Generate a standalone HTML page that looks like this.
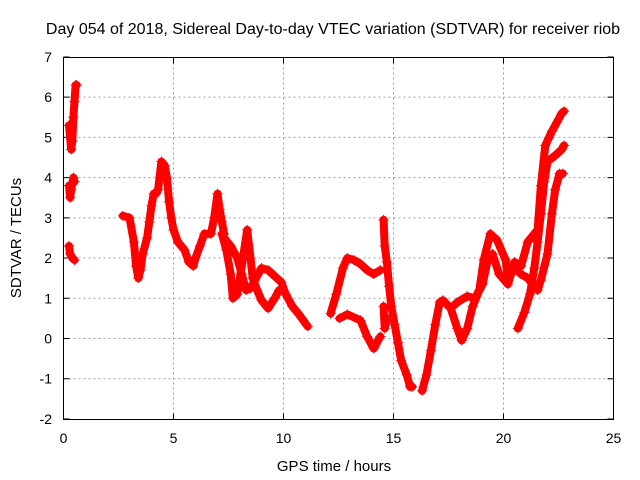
<!DOCTYPE html>
<html><head><meta charset="utf-8"><style>
body{margin:0;background:#fff}
svg{display:block;font-family:"Liberation Sans",sans-serif}
</style></head><body>
<svg id="chart" width="640" height="480" viewBox="0 0 640 480">
<rect width="640" height="480" fill="#fff"/>
<text x="333" y="34" font-size="16" text-anchor="middle">Day 054 of 2018, Sidereal Day-to-day VTEC variation (SDTVAR) for receiver riob</text>
<text x="334" y="471" font-size="15" text-anchor="middle">GPS time / hours</text>
<text x="21" y="238" font-size="15" text-anchor="middle" transform="rotate(-90 21 238)">SDTVAR / TECUs</text>
<g id="grid"></g>
<g id="marks"></g>
<rect x="63.5" y="57.5" width="550" height="362" fill="none" stroke="#000" stroke-width="1"/>
</svg>
<script>
const xTicks=[0,5,10,15,20,25];
const yTicks=[-2,-1,0,1,2,3,4,5,6,7];
const segA1=[[0.25,5.3],[0.3,5.0],[0.35,4.7],[0.4,4.9],[0.45,5.5],[0.5,5.9],[0.55,6.3],[0.6,6.3]];
const segA2=[[0.25,3.8],[0.3,3.5],[0.35,3.7],[0.45,4.0],[0.5,3.9]];
const segA3=[[0.25,2.3],[0.3,2.1],[0.4,2.0],[0.5,1.95]];
const segB1=[[2.7,3.05],[3.0,3.0],[3.2,2.4],[3.3,1.8],[3.4,1.5],[3.5,1.7],[3.6,2.1],[3.8,2.5],[3.9,2.9],[4.0,3.3],[4.1,3.6],[4.2,3.6],[4.3,3.7],[4.45,4.4],[4.6,4.3],[4.7,4.0],[4.8,3.4],[4.9,3.0],[5.0,2.7],[5.2,2.4],[5.5,2.2],[5.7,1.9],[5.9,1.8],[6.0,2.0],[6.2,2.3],[6.4,2.6],[6.7,2.6],[6.85,3.0],[7.0,3.6],[7.1,3.2],[7.2,2.9],[7.3,2.6]];
const segB2=[[7.2,2.6],[7.4,2.2],[7.6,1.6],[7.7,1.0],[7.9,1.1],[8.1,1.8],[8.35,2.7],[8.5,2.0],[8.6,1.5],[8.8,1.2],[9.0,0.95],[9.3,0.75],[9.6,1.0],[9.8,1.2]];
const segB3=[[7.3,2.5],[7.6,2.3],[7.9,2.0],[8.1,1.6],[8.3,1.2],[8.5,1.25],[8.7,1.45],[9.0,1.75],[9.3,1.7],[9.6,1.55],[9.9,1.4],[10.1,1.1],[10.4,0.8],[10.7,0.6],[11.1,0.3]];
const segC1=[[12.14,0.62],[12.4,1.1],[12.7,1.75],[12.9,2.0],[13.2,1.95],[13.5,1.85],[13.8,1.7],[14.1,1.6],[14.4,1.7]];
const segC2=[[12.55,0.5],[12.9,0.6],[13.5,0.45],[13.8,0.05],[14.1,-0.25],[14.4,0.05]];
const segC3=[[14.55,2.95],[14.6,2.3],[14.7,1.9],[14.8,1.3],[14.9,0.8],[15.05,0.35],[15.2,-0.1],[15.35,-0.55],[15.6,-0.9],[15.75,-1.2],[15.85,-1.2]];
const segC4=[[14.55,0.8],[14.6,0.25],[14.7,0.5]];
const segC5=[[16.3,-1.3],[16.5,-0.9],[16.7,-0.3],[16.9,0.35],[17.1,0.9],[17.25,0.95],[17.6,0.75],[17.9,0.25],[18.1,-0.05],[18.35,0.25],[18.6,0.8],[18.9,1.2],[19.1,1.95],[19.4,2.6],[19.7,2.45],[20.1,1.95],[20.2,1.45],[20.5,1.75],[20.8,1.6],[21.1,1.5],[21.55,1.2],[21.7,1.45],[22.0,2.1],[22.2,3.1],[22.35,3.7],[22.55,4.1],[22.7,4.1]];
const segC6=[[17.6,0.75],[17.9,0.9],[18.35,1.05],[18.7,1.0],[19.05,1.35],[19.3,2.0],[19.5,2.1],[19.8,1.6],[20.2,1.35],[20.5,1.9],[20.8,1.8],[21.1,2.4],[21.55,2.7],[21.7,3.8],[21.9,4.8],[22.2,5.15],[22.65,5.6],[22.75,5.65]];
const segC7=[[20.65,0.25],[20.95,0.65],[21.2,1.1],[21.4,1.75],[21.55,2.4],[21.7,3.1],[21.85,3.9],[22.0,4.4],[22.35,4.55],[22.65,4.7],[22.75,4.8]];
const segments=[segA1,segA2,segA3,segB1,segB2,segB3,segC1,segC2,segC3,segC4,segC5,segC6,segC7];
const X=t=>63.5+22*t;
const Y=v=>338.5-40.22*v;
const NS='http://www.w3.org/2000/svg';
const grid=document.getElementById('grid');
const marks=document.getElementById('marks');
xTicks.forEach(t=>{
  const x=X(t);
  if(t>0&&t<25){const g=document.createElementNS(NS,'line');
  
  
  g.setAttribute('x1',x);g.setAttribute('x2',x);g.setAttribute('y1',57.5);g.setAttribute('y2',419.5);
  g.setAttribute('stroke','#a0a0a0');g.setAttribute('stroke-dasharray','2,3');grid.appendChild(g);}
  const tk=document.createElementNS(NS,'path');
  
  
  tk.setAttribute('d',`M${x},419.5v-6M${x},57.5v6`);tk.setAttribute('stroke','#000');grid.appendChild(tk);
  const l=document.createElementNS(NS,'text');
  
  
  l.setAttribute('x',x);l.setAttribute('y',443);l.setAttribute('font-size','14');l.setAttribute('text-anchor','middle');
  l.textContent=t;grid.appendChild(l);
});
yTicks.forEach(v=>{
  const y=Y(v);
  if(v>-2&&v<7){const g=document.createElementNS(NS,'line');
  
  
  g.setAttribute('x1',63.5);g.setAttribute('x2',613.5);g.setAttribute('y1',y);g.setAttribute('y2',y);
  g.setAttribute('stroke','#a0a0a0');g.setAttribute('stroke-dasharray','2,3');grid.appendChild(g);}
  const tk=document.createElementNS(NS,'path');
  
  
  tk.setAttribute('d',`M63.5,${y}h6M613.5,${y}h-6`);tk.setAttribute('stroke','#000');grid.appendChild(tk);
  const l=document.createElementNS(NS,'text');
  
  
  l.setAttribute('x',52);l.setAttribute('y',y+5);l.setAttribute('font-size','14');l.setAttribute('text-anchor','end');
  l.textContent=v;grid.appendChild(l);
});
segments.forEach(seg=>{
  const p=document.createElementNS(NS,'polyline');
  
  
  p.setAttribute('points',seg.map(d=>X(d[0])+','+Y(d[1])).join(' '));
  p.setAttribute('fill','none');p.setAttribute('stroke','#ff0000');p.setAttribute('stroke-width','8');
  p.setAttribute('stroke-linejoin','round');p.setAttribute('stroke-linecap','round');
  marks.appendChild(p);
  seg.forEach(d=>{
    const m=document.createElementNS(NS,'path');
    
    
    const x=X(d[0]),y=Y(d[1]);
    m.setAttribute('d',`M${x-5},${y}h10M${x},${y-5}v10`);
    m.setAttribute('stroke','#ff0000');m.setAttribute('stroke-width','1');
    marks.appendChild(m);
  });
});
</script>
</body></html>
